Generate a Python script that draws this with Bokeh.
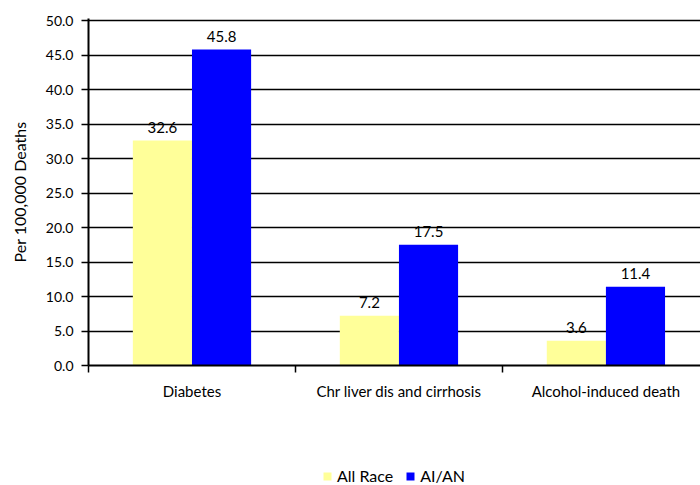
from bokeh.plotting import figure
from bokeh.layouts import column
from bokeh.models import (Range1d, FixedTicker, ColumnDataSource, Legend, LegendItem,
                          NumeralTickFormatter)
from bokeh.transform import dodge
from bokeh.core.properties import value
from bokeh.embed import file_html
from bokeh.resources import INLINE

categories = ["Diabetes", "Chr liver dis and cirrhosis", "Alcohol-induced death"]
all_race = [32.6, 7.2, 3.6]
aian = [45.8, 17.5, 11.4]
series_names = ["All Race", "AI/AN"]
series_colors = ["#FFFF99", "#0000FF"]
y_ticks = [0, 5, 10, 15, 20, 25, 30, 35, 40, 45, 50]

FONT = "Lato"
BAR_W = 1 / 3.5

xc = [i + 0.5 for i in range(len(categories))]
src = ColumnDataSource(dict(
    x=xc,
    all_race=all_race,
    aian=aian,
    all_lbl=[f"{v:.1f}" for v in all_race],
    aian_lbl=[f"{v:.1f}" for v in aian],
))

p = figure(width=700, height=420, output_backend="svg", toolbar_location=None,
           x_range=Range1d(0, 2.957), y_range=Range1d(0, 50.3),
           min_border_left=88, min_border_right=0, min_border_top=18,
           min_border_bottom=55)
p.outline_line_color = None
p.background_fill_color = "white"
p.border_fill_color = "white"

r1 = p.vbar(x=dodge("x", -BAR_W / 2, range=p.x_range), top="all_race", width=BAR_W,
            source=src, fill_color=series_colors[0], line_color=None)
r2 = p.vbar(x=dodge("x", BAR_W / 2, range=p.x_range), top="aian", width=BAR_W,
            source=src, fill_color=series_colors[1], line_color=None)

p.text(x=dodge("x", -BAR_W / 2, range=p.x_range), y="all_race", text="all_lbl", source=src,
       text_align="center", text_baseline="bottom", y_offset=-8,
       text_font=value(FONT), text_font_size="15px", text_color="black")
p.text(x=dodge("x", BAR_W / 2, range=p.x_range), y="aian", text="aian_lbl", source=src,
       text_align="center", text_baseline="bottom", y_offset=-8,
       text_font=value(FONT), text_font_size="15px", text_color="black")

# grid
p.xgrid.visible = False
p.ygrid.ticker = FixedTicker(ticks=y_ticks)
p.ygrid.grid_line_color = "black"
p.ygrid.grid_line_width = 1.5

# y axis
ya = p.yaxis[0]
ya.ticker = FixedTicker(ticks=y_ticks)
ya.formatter = NumeralTickFormatter(format="0.0")
ya.axis_line_width = 2
ya.axis_line_color = "black"
ya.major_tick_out = 7
ya.major_tick_in = 0
ya.major_tick_line_width = 1.5
ya.minor_tick_line_color = None
ya.major_label_standoff = 8
ya.major_label_text_font = FONT
ya.major_label_text_font_size = "14px"
ya.major_label_text_color = "black"
ya.axis_label = "Per 100,000 Deaths"
ya.axis_label_text_font = FONT
ya.axis_label_text_font_size = "16px"
ya.axis_label_text_font_style = "normal"
ya.axis_label_text_color = "black"
ya.axis_label_standoff = 14

# x axis
xa = p.xaxis[0]
xa.ticker = FixedTicker(ticks=xc, minor_ticks=[0, 1, 2, 3])
xa.major_label_overrides = {x: c for x, c in zip(xc, categories)}
xa.axis_line_width = 2
xa.axis_line_color = "black"
xa.major_tick_line_color = None
xa.major_tick_out = 0
xa.major_tick_in = 0
xa.minor_tick_line_color = "black"
xa.minor_tick_line_width = 1.5
xa.minor_tick_out = 7
xa.minor_tick_in = 0
xa.major_label_standoff = 9
xa.major_label_text_font = FONT
xa.major_label_text_font_size = "15px"
xa.major_label_text_color = "black"

# legend strip below the chart
lg = figure(width=700, height=65, output_backend="svg", toolbar_location=None,
            x_range=Range1d(0, 1), y_range=Range1d(0, 1),
            x_axis_type=None, y_axis_type=None,
            min_border_left=0, min_border_right=0, min_border_top=0, min_border_bottom=0)
lg.outline_line_color = None
lg.background_fill_color = None
lg.border_fill_color = None
lg.xgrid.visible = False
lg.ygrid.visible = False
lr = [lg.vbar(x=[0.5], top=[0], bottom=[0], width=0.0, fill_color=c, line_color=None)
      for c in series_colors]
legend = Legend(items=[LegendItem(label=n, renderers=[r]) for n, r in zip(series_names, lr)],
                orientation="horizontal", location=(234, 0))
legend.border_line_color = None
legend.background_fill_alpha = 0
legend.padding = 0
legend.margin = 0
legend.spacing = 12
legend.label_standoff = 5
legend.glyph_width = 10
legend.glyph_height = 10
legend.label_text_font = FONT
legend.label_text_font_size = "16px"
legend.label_text_color = "black"
legend.label_height = 14
lg.add_layout(legend)

layout = column(p, lg, spacing=0)
open("out.html", "w").write(file_html(layout, INLINE))
